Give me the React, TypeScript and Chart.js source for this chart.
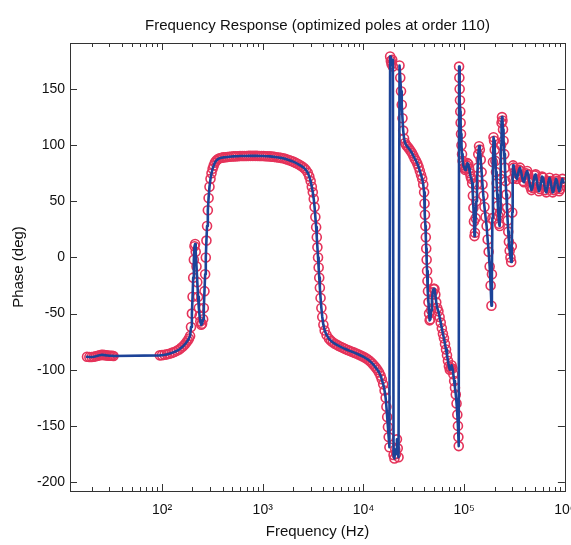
import { useEffect, useRef } from 'react';
import { Chart, registerables } from 'chart.js';

Chart.register(...registerables);

const chartTitle = 'Frequency Response (optimized poles at order 110)';
const xAxisTitle = 'Frequency (Hz)';
const yAxisTitle = 'Phase (deg)';

// Frequency (Hz) of each measured sample
const frequencyHz = [
  18, 19, 20, 21, 22, 23, 24, 25, 26, 27, 28, 29, 30, 31, 32, 33,
  95, 100, 106, 112, 118, 125, 132, 140, 148, 155, 162, 168, 174, 180, 185,
  190, 194, 198, 201, 204, 207, 210, 213, 216, 220, 224, 228, 232, 236, 240, 245,
  250, 256, 260, 264, 268, 272, 276, 280, 285, 290, 296, 303, 310, 318, 326, 335, 345, 358, 372,
  390, 405, 425, 445, 465, 490, 515, 540, 565, 595, 625, 655, 690, 725, 760, 800, 840, 880, 925, 970,
  1020, 1070, 1120, 1180, 1240, 1300, 1370, 1440, 1510, 1590, 1670, 1750, 1840, 1930, 2030, 2130, 2240, 2350, 2460, 2570,
  2680, 2800, 2900, 2990, 3070, 3140, 3210, 3270, 3330, 3390, 3440, 3490, 3540, 3590, 3640, 3690, 3750, 3820, 3900, 4000, 4120, 4300,
  4550, 4750, 4950, 5200, 5450, 5700, 6000, 6300, 6600, 6950, 7300, 7700, 8100, 8500, 8950, 9400, 9850,
  10300, 10800, 11300, 11800, 12300, 12800, 13300, 13800, 14300, 14800, 15200, 15700, 16200, 16600, 16900, 17200, 17500, 17800, 18100,
  18400, 18700, 19000, 19300, 19600, 19900, 20300, 20700, 21100, 21500, 21900, 22300, 22800,
  23200, 23600, 24000, 24400, 24800, 25300, 25900, 26600, 27400, 28300, 29300, 30300, 31300, 32300, 33300, 34300, 35300, 36300, 37300, 38300, 39200,
  40000, 40400, 40800, 41200, 41600, 42000, 42400, 42800, 43200, 43700, 44200, 44800, 45400, 46200, 47000, 47800, 48700, 49700, 50700, 51700, 52800, 54000,
  55500, 57000, 58500, 60000, 61500, 63000, 64500, 66000, 67500, 69000, 70500, 72000, 73500, 75000, 76500, 78000, 79500, 81000, 82500, 84000, 85500, 86700, 87600, 88300,
  89000, 89600, 90200, 90800, 91500, 92200, 93000, 94000, 95200, 96500, 98000, 100000, 102000, 104000, 106000, 108000, 110000, 112000, 114000, 116000, 118000, 120000,
  122000, 123500, 125000, 126500, 128000, 130000, 132000, 134000, 136000, 138000, 140500, 143000, 146000, 149000, 152000, 155000, 159000, 163000, 167000, 171000, 175000, 179000, 183000, 186500,
  188500, 190500, 193000, 195500, 198000, 201000, 204000, 207000, 210000, 213000, 216000, 219000, 222000, 225000, 227500, 230000, 232500, 235000, 237500,
  240000, 243000, 246000, 250000, 254000, 258000, 262000, 266000, 270000, 274000, 278000, 283000, 288000, 293000, 297000, 300000, 303000, 306000,
  310000, 318000, 326000, 334000, 342000, 350000, 358000, 366000, 375000, 384000, 393000, 402000, 412000, 422000, 432000, 443000, 454000, 465000, 476000, 488000, 500000, 512000, 525000, 538000,
  551000, 565000, 579000, 593000, 608000, 623000, 638000, 654000, 670000, 687000, 704000, 721000, 739000, 757000, 776000, 795000, 815000, 835000, 856000, 877000, 899000, 921000, 944000, 967000,
];

// Phase (deg) of each sample (same order as frequencyHz)
const phaseDeg = [
  -88.5, -88.6, -88.7, -88.4, -88.0, -87.5, -87.1, -86.8, -86.8, -87.0, -87.2, -87.3, -87.5, -87.5, -87.6, -87.7,
  -87.2, -87.0, -86.7, -86.3, -85.8, -85.0, -84.2, -83.2, -82.0, -80.5, -79.0, -77.5, -75.8, -74.0, -72.2,
  -70, -62, -50, -35, -18, -2, 10, 12, 5, -8, -22, -35, -45, -52, -57, -60,
  -59, -55, -45, -30, -15, 0, 15, 28, 42, 53, 63, 70, 75, 79, 82, 84.5, 86.2, 87.5, 88.3,
  88.8, 89.1, 89.3, 89.5, 89.7, 89.9, 90.0, 90.1, 90.2, 90.3, 90.3, 90.4, 90.4, 90.5, 90.5, 90.5, 90.5, 90.5, 90.4, 90.4,
  90.3, 90.2, 90.1, 90.0, 89.8, 89.6, 89.3, 89.0, 88.7, 88.3, 87.8, 87.3, 86.6, 85.9, 85.1, 84.2, 83.2, 82.1, 80.9, 79.6,
  78, 75.5, 72, 68, 63, 58, 52, 45, 36, 27, 18, 9, 0, -9, -18, -27, -36, -45, -53, -60, -65, -69,
  -72.5, -74.2, -75.5, -76.8, -77.8, -78.8, -79.8, -80.7, -81.5, -82.4, -83.2, -84, -84.8, -85.6, -86.4, -87.3, -88.2,
  -89.2, -90.3, -91.5, -93, -94.6, -96.4, -98.3, -100.2, -102.5, -105.3, -108.5, -113, -118.5, -125, -133, -142, -151, -160, -169,
  179, 175, 172, 176, 170, -176, -179, -171, -175, -162, -170, -178, 171,
  160, 148, 136, 124, 113, 106, 102, 100, 98.5, 97, 95, 93, 90.5, 88, 86, 83.5, 80.5, 77, 73.5, 70, 65,
  58, 48, 38, 28, 18, 8, -2, -12, -21, -30, -40, -50, -56, -55, -47, -38, -31, -28, -28, -33, -40, -45,
  -48, -53, -58, -63, -68, -72, -77, -82, -87, -92, -97, -100, -99, -96, -99, -104, -110, -116, -122, -130, -140, -150, -160, -168,
  170, 160, 150, 140, 130, 120, 110, 100, 92, 86, 82, 80, 78, 79, 82, 84, 83, 79, 75, 72, 70, 66,
  55, 44, 32, 19, 22, 35, 50, 65, 80, 92, 99, 96, 87, 76, 65, 55, 45, 36, 28, 16, 5, -8, -25, -43,
  -15, 35, 85, 107, 104, 96, 86, 76, 66, 56, 46, 37, 30, 28, 40, 70, 100, 120, 125,
  122, 114, 104, 92, 80, 68, 56, 44, 33, 23, 14, 6, 0, -4, 10, 40, 70, 82,
  80, 76, 72, 70, 74, 78, 80, 77, 72, 68, 67, 71, 75, 77, 74, 68, 63, 60, 62, 68, 73, 74, 69, 63,
  59, 61, 67, 72, 71, 65, 60, 58, 62, 68, 71, 68, 62, 58, 60, 66, 70, 68, 62, 59, 61, 67, 70, 67,
];

const xTickValues = [100, 1000, 10000, 100000, 1000000];
const xTickLabels = ['10²', '10³', '10⁴', '10⁵', '10⁶'];
const yTickValues = [-200, -150, -100, -50, 0, 50, 100, 150];
const xMin = 12.2;
const xMax = 1000000;
const yMin = -208;
const yMax = 191;

const FONT = "'Liberation Sans', Arial, Helvetica, sans-serif";
const BLUE = '#1c4398';
const RED = '#e5335a';
const AXIS = '#333333';
const TEXT = '#111111';

const boxPlugin = {
  id: 'matlabBox',
  afterDraw(chart: any) {
    const { ctx, chartArea, scales } = chart;
    const { left, right, top, bottom } = chartArea;
    const xs = scales.x;
    const ys = scales.y;
    ctx.save();
    ctx.strokeStyle = AXIS;
    ctx.lineWidth = 1;
    ctx.strokeRect(Math.round(left) + 0.5, Math.round(top) + 0.5, Math.round(right - left), Math.round(bottom - top));
    ctx.beginPath();
    for (let d = 1; d <= 6; d++) {
      for (let m = 1; m <= 9; m++) {
        const v = m * Math.pow(10, d);
        if (v < xs.min || v > xs.max) continue;
        const px = Math.round(xs.getPixelForValue(v)) + 0.5;
        const len = m === 1 ? 7 : 4;
        ctx.moveTo(px, bottom);
        ctx.lineTo(px, bottom - len);
        ctx.moveTo(px, top);
        ctx.lineTo(px, top + len);
      }
    }
    for (const v of yTickValues) {
      const py = Math.round(ys.getPixelForValue(v)) + 0.5;
      ctx.moveTo(left, py);
      ctx.lineTo(left + 7, py);
      ctx.moveTo(right, py);
      ctx.lineTo(right - 7, py);
    }
    ctx.stroke();
    ctx.restore();
  },
};

export default function App() {
  const canvasRef = useRef<HTMLCanvasElement | null>(null);

  useEffect(() => {
    const canvas = canvasRef.current;
    if (!canvas) return;
    const points = frequencyHz.map((f, i) => ({ x: f, y: phaseDeg[i] }));
    const chart = new Chart(canvas, {
      type: 'scatter',
      data: {
        datasets: [
          {
            label: 'fit',
            data: points,
            showLine: true,
            borderColor: BLUE,
            backgroundColor: BLUE,
            borderWidth: 2.6,
            borderJoinStyle: 'round',
            borderCapStyle: 'round',
            pointRadius: 0,
            pointHoverRadius: 0,
            tension: 0,
          },
          {
            label: 'measured',
            data: points,
            showLine: false,
            pointStyle: 'circle',
            pointRadius: 4.5,
            pointHoverRadius: 4.5,
            pointBorderWidth: 1.6,
            pointBorderColor: RED,
            pointBackgroundColor: 'rgba(0,0,0,0)',
            borderColor: RED,
            backgroundColor: 'rgba(0,0,0,0)',
          },
        ],
      },
      options: {
        animation: false,
        responsive: false,
        devicePixelRatio: 1,
        events: [],
        layout: { padding: { left: 0, right: 6, top: 0, bottom: 0 } },
        plugins: {
          legend: { display: false },
          tooltip: { enabled: false },
          title: {
            display: true,
            text: chartTitle,
            fullSize: false,
            color: TEXT,
            font: { family: FONT, size: 15, weight: 'normal' },
            padding: { top: 17, bottom: 8 },
          },
        },
        scales: {
          x: {
            type: 'logarithmic',
            min: xMin,
            max: xMax,
            border: { display: false },
            grid: { display: false, drawTicks: false },
            afterBuildTicks: (s: any) => {
              s.ticks = xTickValues.map((v) => ({ value: v, major: true }));
            },
            afterFit: (s: any) => {
              s.height = 54;
              s.paddingLeft = 0;
              s.paddingRight = 0;
            },
            ticks: {
              autoSkip: false,
              maxRotation: 0,
              minRotation: 0,
              padding: 11,
              color: TEXT,
              font: { family: FONT, size: 14 },
              callback: (value: any) => {
                const i = xTickValues.indexOf(Number(value));
                return i >= 0 ? xTickLabels[i] : '';
              },
            },
            title: {
              display: true,
              text: xAxisTitle,
              color: TEXT,
              font: { family: FONT, size: 15 },
              padding: { top: 0, bottom: 4 },
            },
          },
          y: {
            type: 'linear',
            min: yMin,
            max: yMax,
            border: { display: false },
            grid: { display: false, drawTicks: false },
            afterBuildTicks: (s: any) => {
              s.ticks = yTickValues.map((v) => ({ value: v }));
            },
            afterFit: (s: any) => {
              s.width = 70;
              s.paddingTop = 0;
              s.paddingBottom = 0;
            },
            ticks: {
              padding: 5,
              color: TEXT,
              font: { family: FONT, size: 14 },
              callback: (value: any) => String(value),
            },
            title: {
              display: true,
              text: yAxisTitle,
              color: TEXT,
              font: { family: FONT, size: 15 },
              padding: { top: 10, bottom: 0 },
            },
          },
        },
      },
      plugins: [boxPlugin],
    } as any);
    return () => chart.destroy();
  }, []);

  return (
    <div style={{ position: 'absolute', left: 0, top: 0, width: 571, height: 545, background: '#ffffff' }}>
      <canvas ref={canvasRef} width={571} height={545} style={{ display: 'block' }} />
    </div>
  );
}
